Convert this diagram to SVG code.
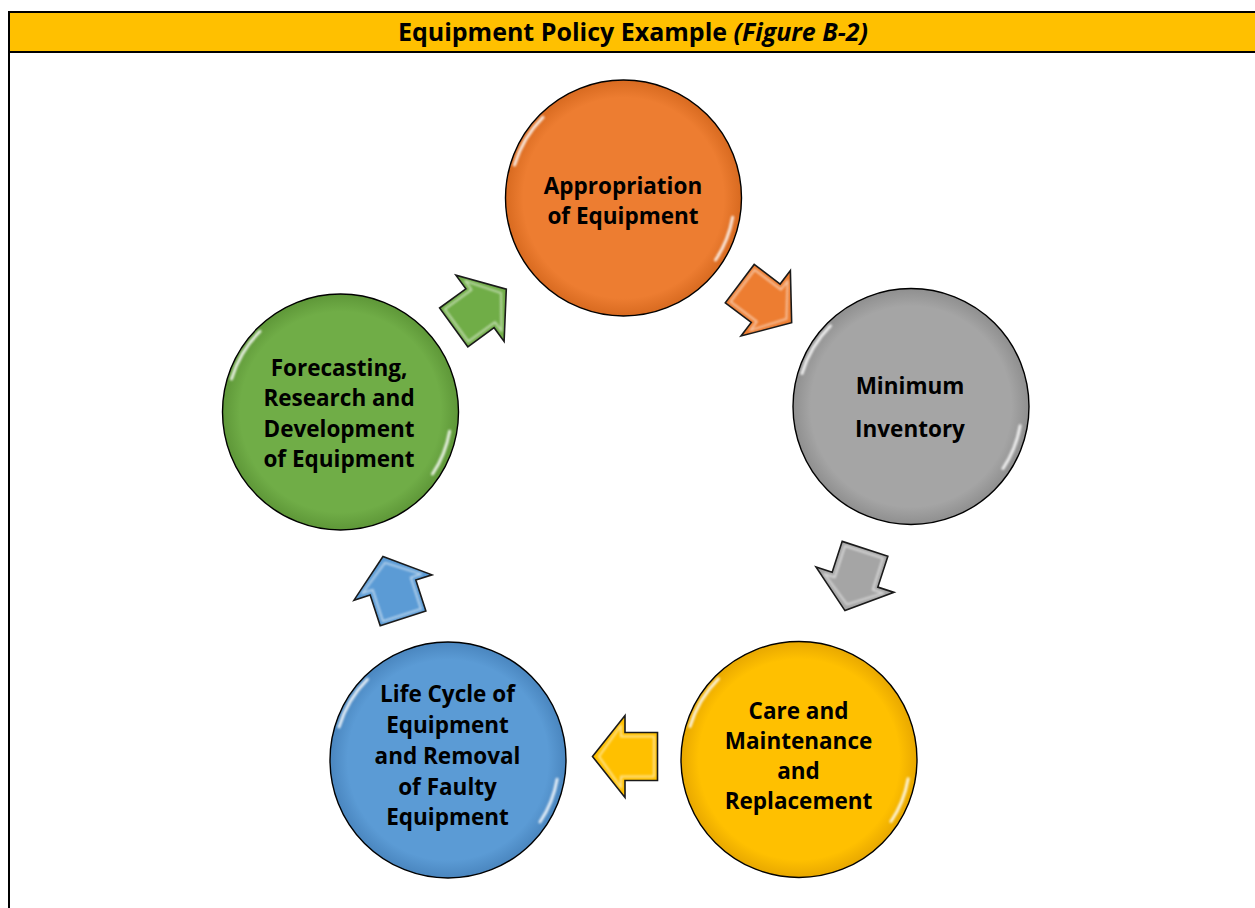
<svg xmlns="http://www.w3.org/2000/svg" xmlns:xlink="http://www.w3.org/1999/xlink" width="1255" height="908" viewBox="0 0 1255 908">
  <style>
    .title { font-family: "Open Sans", "Liberation Sans", sans-serif; font-weight: bold; font-size: 25px; fill: #000; }
    .lbl { font-family: "Open Sans", "Liberation Sans", sans-serif; font-weight: bold; font-size: 22.5px; fill: #000; text-anchor: middle; }
    .node-outline { stroke: #000; stroke-width: 1.4; }
    .hl { fill: none; stroke: #fff; stroke-width: 3; stroke-linecap: round; opacity: 0.85; filter: url(#soft); }
    .arrow { stroke: #1a1a1a; stroke-width: 1.6; stroke-linejoin: miter; }
    .arrow-hl { fill: none; stroke: #fff; stroke-width: 2; opacity: 0.55; filter: url(#soft); stroke-linejoin: round; }
  </style>
  <defs>
    <filter id="soft" x="-20%" y="-20%" width="140%" height="140%">
      <feGaussianBlur stdDeviation="0.9"/>
    </filter>
    <radialGradient id="gOrange" cx="50%" cy="50%" r="50%">
      <stop offset="0.85" stop-color="#ED7D31"/>
      <stop offset="1" stop-color="#D86A20"/>
    </radialGradient>
    <radialGradient id="gGray" cx="50%" cy="50%" r="50%">
      <stop offset="0.85" stop-color="#A5A5A5"/>
      <stop offset="1" stop-color="#8F8F8F"/>
    </radialGradient>
    <radialGradient id="gYellow" cx="50%" cy="50%" r="50%">
      <stop offset="0.85" stop-color="#FFC000"/>
      <stop offset="1" stop-color="#E8A800"/>
    </radialGradient>
    <radialGradient id="gBlue" cx="50%" cy="50%" r="50%">
      <stop offset="0.85" stop-color="#5B9BD5"/>
      <stop offset="1" stop-color="#4A86BF"/>
    </radialGradient>
    <radialGradient id="gGreen" cx="50%" cy="50%" r="50%">
      <stop offset="0.85" stop-color="#70AD47"/>
      <stop offset="1" stop-color="#5E9738"/>
    </radialGradient>
    <path id="arrowShape" d="M-32.5,-24 H0 V-41 L32.5,0 L0,41 V24 H-32.5 Z"/>
    <path id="arrowInset" d="M-29,-20 H4 V-31 L26,0 L4,31 V20 H-29 Z"/>
    <path id="circleHl" d="M-109,-33 A114,114 0 0 1 -80.6,-80.6 M109.1,19.2 A111,111 0 0 1 92,62"/>
  </defs>

  <!-- frame and header -->
  <g id="header">
    <rect x="9" y="12" width="1246" height="40" fill="#FFC000"/>
    <line x1="8" y1="12" x2="1255" y2="12" stroke="#000" stroke-width="2"/>
    <line x1="8" y1="52" x2="1255" y2="52" stroke="#000" stroke-width="2"/>
    <line x1="9" y1="11" x2="9" y2="908" stroke="#000" stroke-width="2"/>
    <text class="title" x="633" y="41" text-anchor="middle">Equipment Policy Example <tspan font-style="italic">(Figure B-2)</tspan></text>
  </g>

  <!-- connectors -->
  <g id="connectors">
    <g transform="translate(765.7,303.2) rotate(37)">
      <use xlink:href="#arrowShape" class="arrow" fill="#ED7D31"/>
      <use xlink:href="#arrowInset" class="arrow-hl"/>
    </g>
    <g transform="translate(855,579.7) rotate(108)">
      <use xlink:href="#arrowShape" class="arrow" fill="#A5A5A5"/>
      <use xlink:href="#arrowInset" class="arrow-hl"/>
    </g>
    <g transform="translate(625,756.5) rotate(180)">
      <use xlink:href="#arrowShape" class="arrow" fill="#FFC000"/>
      <use xlink:href="#arrowInset" class="arrow-hl"/>
    </g>
    <g transform="translate(393,587.5) rotate(-108)">
      <use xlink:href="#arrowShape" class="arrow" fill="#5B9BD5"/>
      <use xlink:href="#arrowInset" class="arrow-hl"/>
    </g>
    <g transform="translate(480,308.3) rotate(-36)">
      <use xlink:href="#arrowShape" class="arrow" fill="#70AD47"/>
      <use xlink:href="#arrowInset" class="arrow-hl"/>
    </g>
  </g>

  <!-- nodes -->
  <g id="node-appropriation">
    <circle cx="623.5" cy="198" r="118" fill="url(#gOrange)" class="node-outline"/>
    <use xlink:href="#circleHl" x="623.5" y="198" class="hl"/>
    <text class="lbl" x="623" y="193.5">Appropriation</text>
    <text class="lbl" x="623" y="224">of Equipment</text>
  </g>

  <g id="node-minimum-inventory">
    <circle cx="911" cy="406.5" r="118" fill="url(#gGray)" class="node-outline"/>
    <use xlink:href="#circleHl" x="911" y="406.5" class="hl"/>
    <text class="lbl" x="910" y="394">Minimum</text>
    <text class="lbl" x="910" y="437">Inventory</text>
  </g>

  <g id="node-care">
    <circle cx="799" cy="759.5" r="118" fill="url(#gYellow)" class="node-outline"/>
    <use xlink:href="#circleHl" x="799" y="759.5" class="hl"/>
    <text class="lbl" x="798.5" y="718.5">Care and</text>
    <text class="lbl" x="798.5" y="748.5">Maintenance</text>
    <text class="lbl" x="798.5" y="778.5">and</text>
    <text class="lbl" x="798.5" y="809">Replacement</text>
  </g>

  <g id="node-life-cycle">
    <circle cx="448" cy="760" r="118" fill="url(#gBlue)" class="node-outline"/>
    <use xlink:href="#circleHl" x="448" y="760" class="hl"/>
    <text class="lbl" x="447.5" y="701.5">Life Cycle of</text>
    <text class="lbl" x="447.5" y="732.5">Equipment</text>
    <text class="lbl" x="447.5" y="763.5">and Removal</text>
    <text class="lbl" x="447.5" y="794.5">of Faulty</text>
    <text class="lbl" x="447.5" y="825">Equipment</text>
  </g>

  <g id="node-forecasting">
    <circle cx="340.5" cy="412" r="118" fill="url(#gGreen)" class="node-outline"/>
    <use xlink:href="#circleHl" x="340.5" y="412" class="hl"/>
    <text class="lbl" x="339" y="376">Forecasting,</text>
    <text class="lbl" x="339" y="406">Research and</text>
    <text class="lbl" x="339" y="436.5">Development</text>
    <text class="lbl" x="339" y="467">of Equipment</text>
  </g>
</svg>
